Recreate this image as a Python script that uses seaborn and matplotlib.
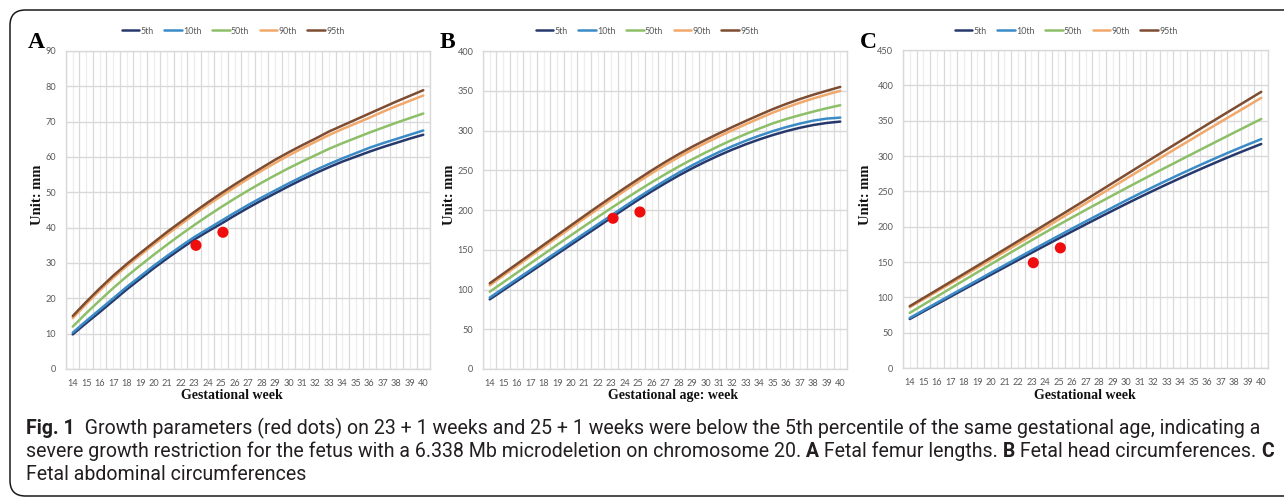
"""Fetal growth percentile charts (femur length, head and abdominal circumference)."""

import matplotlib

matplotlib.use("Agg")
import matplotlib.pyplot as plt
import numpy as np
import pandas as pd
import seaborn as sns
from matplotlib import font_manager
from matplotlib.lines import Line2D
from matplotlib.patches import FancyBboxPatch

FIG_W, FIG_H = 1284, 498

WEEKS = list(range(14, 41))
PERCENTILES = ["5th", "10th", "50th", "90th", "95th"]
DOT_WEEKS = [23.14, 25.14]

# A - femur length (mm)
FL_P5 = [9.8, 13.0, 16.1, 19.3, 22.5, 25.5, 28.5, 31.3, 34.0, 36.6, 38.9, 41.1, 43.4, 45.6,
         47.7, 49.7, 51.7, 53.6, 55.4, 57.1, 58.7, 60.1, 61.5, 62.8, 64.0, 65.2, 66.3]
FL_P10 = [10.3, 13.6, 16.8, 20.0, 23.2, 26.2, 29.2, 32.0, 34.7, 37.3, 39.6, 41.9, 44.2, 46.4,
          48.5, 50.5, 52.5, 54.4, 56.3, 58.0, 59.6, 61.1, 62.6, 63.9, 65.1, 66.3, 67.5]
FL_P50 = [12.0, 15.8, 19.4, 22.9, 26.2, 29.3, 32.3, 35.2, 38.0, 40.7, 43.3, 45.8, 48.2, 50.5,
          52.7, 54.8, 56.8, 58.7, 60.5, 62.3, 63.9, 65.4, 66.9, 68.3, 69.7, 71.0, 72.3]
FL_P90 = [14.4, 18.4, 22.2, 25.8, 29.1, 32.2, 35.2, 38.1, 40.9, 43.7, 46.4, 48.9, 51.4, 53.8,
          56.1, 58.3, 60.4, 62.4, 64.3, 66.2, 67.9, 69.5, 71.1, 72.8, 74.4, 75.9, 77.4]
FL_P95 = [15.0, 19.0, 22.8, 26.4, 29.7, 32.8, 35.8, 38.8, 41.6, 44.4, 47.1, 49.7, 52.2, 54.6,
          56.9, 59.2, 61.3, 63.3, 65.2, 67.2, 68.9, 70.6, 72.3, 74.0, 75.7, 77.3, 78.9]
FL_DOTS = [35.0, 38.7]

# B - head circumference (mm)
HC_P5 = [87.6, 99.0, 110.4, 121.8, 133.2, 144.6, 156.0, 167.4, 178.7, 190.2, 201.5, 212.6, 223.3,
         233.5, 243.2, 252.3, 260.8, 268.7, 276.0, 282.7, 288.8, 294.3, 299.2, 303.4, 306.9,
         309.5, 311.2]
HC_P10 = [89.8, 101.3, 112.8, 124.3, 135.8, 147.3, 158.8, 170.3, 181.7, 193.0, 204.4, 215.6,
          226.4, 236.8, 246.7, 256.0, 264.7, 272.8, 280.3, 287.2, 293.5, 299.2, 304.3, 308.7,
          312.4, 315.0, 316.2]
HC_P50 = [97.2, 109.0, 120.8, 132.6, 144.4, 156.2, 167.9, 179.5, 191.0, 202.3, 213.4, 224.2,
          234.7, 244.8, 254.5, 263.6, 272.2, 280.5, 288.3, 295.6, 302.5, 309.0, 314.5, 319.3,
          323.8, 328.0, 331.8]
HC_P90 = [105.3, 117.4, 129.4, 141.4, 153.4, 165.4, 177.4, 189.3, 201.1, 212.7, 224.1, 235.2,
          246.1, 256.5, 266.4, 275.6, 284.2, 292.4, 300.3, 307.9, 315.3, 322.5, 329.0, 334.9,
          340.3, 345.2, 349.9]
HC_P95 = [107.8, 119.9, 132.0, 144.1, 156.2, 168.3, 180.4, 192.4, 204.3, 216.0, 227.5, 238.7,
          249.7, 260.2, 270.1, 279.4, 288.1, 296.4, 304.4, 312.1, 319.6, 326.9, 333.5, 339.5,
          345.0, 350.0, 354.8]
HC_DOTS = [189.6, 197.5]

# C - abdominal circumference (mm)
AC_P5 = [69.3, 79.8, 90.3, 100.8, 111.2, 121.6, 132.0, 142.3, 152.6, 162.9, 173.1, 183.2, 193.2,
         203.1, 212.9, 222.6, 232.2, 241.6, 250.8, 259.8, 268.6, 277.2, 285.6, 293.8, 301.8,
         309.5, 317.0]
AC_P10 = [70.8, 81.5, 92.2, 102.9, 113.5, 124.1, 134.8, 145.3, 155.8, 166.3, 176.7, 187.0,
          197.2, 207.3, 217.3, 227.2, 237.1, 246.7, 256.1, 265.3, 274.3, 283.1, 291.7, 300.1,
          308.3, 316.2, 323.9]
AC_P50 = [78.0, 89.5, 101.0, 112.5, 124.0, 135.4, 146.8, 158.1, 169.4, 180.6, 191.6, 202.4,
          213.0, 223.5, 233.9, 244.2, 254.4, 264.5, 274.5, 284.4, 294.2, 304.0, 313.8, 323.5,
          333.2, 342.8, 352.4]
AC_P90 = [86.0, 97.1, 108.3, 119.4, 130.6, 141.8, 153.1, 164.4, 175.7, 187.1, 198.5, 209.9,
          221.4, 232.9, 244.5, 256.1, 267.8, 279.4, 291.0, 302.6, 314.1, 325.5, 337.0, 348.3,
          359.6, 370.9, 382.3]
AC_P95 = [87.5, 98.9, 110.3, 121.7, 133.2, 144.7, 156.2, 167.8, 179.4, 191.0, 202.7, 214.4,
          226.1, 237.9, 249.8, 261.7, 273.6, 285.5, 297.4, 309.2, 321.0, 332.7, 344.4, 356.0,
          367.6, 379.2, 390.8]
AC_DOTS = [149.0, 170.0]

COLORS = {
    "5th": "#26386c",
    "10th": "#3a8bc6",
    "50th": "#8dbf68",
    "90th": "#f1a86a",
    "95th": "#7d4c31",
}

CAPTION_LINES = [
    [("Fig. 1", True),
     ("  Growth parameters (red dots) on 23 + 1 weeks and 25 + 1 weeks were below the 5th "
      "percentile of the same gestational age, indicating a", False)],
    [("severe growth restriction for the fetus with a 6.338 Mb microdeletion on chromosome 20.",
      False),
     (" A", True), (" Fetal femur lengths.", False), (" B", True),
     (" Fetal head circumferences.", False), (" C", True)],
    [("Fetal abdominal circumferences", False)],
]

TICK_GREY = "#595959"
GRID = "#d9d9d9"


def _pick_font(names):
    installed = {f.name for f in font_manager.fontManager.ttflist}
    for name in names:
        if name in installed:
            return name
    return "DejaVu Sans"


def draw_panel(fig, box, curves, dots, ymax, ystep, xlabel, letter, letter_cx, legend_cx,
               xlabel_cx, ylabel_cx):
    left, top, right, bottom = box
    width, height = right - left, bottom - top
    ax = fig.add_axes([left / FIG_W, 1 - bottom / FIG_H, width / FIG_W, height / FIG_H])
    frame = pd.DataFrame({
        "week": WEEKS * len(PERCENTILES),
        "value": [v for series in curves for v in series],
        "percentile": np.repeat(PERCENTILES, len(WEEKS)),
    })
    sns.lineplot(data=frame, x="week", y="value", hue="percentile", hue_order=PERCENTILES,
                 palette=COLORS, linewidth=1.8, legend=False, ax=ax)
    sns.scatterplot(x=DOT_WEEKS, y=dots, color="#f00d0d", s=64, edgecolor="none",
                    zorder=5, ax=ax)

    ax.set_xlim(13.5, 40.5)
    ax.set_ylim(0, ymax)
    ax.set_xticks(WEEKS)
    ax.set_xticks(np.arange(13.5, 41.0, 1.0), minor=True)
    ax.set_yticks(np.arange(0, ymax + 1, ystep))
    ax.grid(True, which="minor", axis="x", color=GRID, linewidth=0.9)
    ax.grid(True, which="major", axis="x", color="#ededed", linewidth=0.9)
    ax.grid(True, which="major", axis="y", color=GRID, linewidth=1.0)
    ax.set_axisbelow(True)
    ax.tick_params(axis="both", which="both", length=0, labelsize=6.6, colors=TICK_GREY)
    ax.tick_params(axis="x", pad=7)
    ax.tick_params(axis="y", pad=7)
    for label in ax.get_xticklabels() + ax.get_yticklabels():
        label.set_family("Lato")
    for spine in ax.spines.values():
        spine.set_color(GRID)
        spine.set_linewidth(1.0)

    ax.set_xlabel(xlabel, family="Liberation Serif", fontweight="bold", fontsize=10,
                  color="#111111")
    ax.xaxis.set_label_coords((xlabel_cx - left) / width, -(389 - bottom) / height)
    ax.set_ylabel("Unit: mm", family="Liberation Serif", fontweight="bold", fontsize=10.5,
                  color="#111111")
    ax.yaxis.set_label_coords((ylabel_cx + 6 - left) / width, (bottom - 195) / height)

    fig.text(letter_cx / FIG_W, 1 - 48 / FIG_H, letter, family="Liberation Serif",
             fontweight="bold", fontsize=17, ha="center", va="baseline", color="#000000")

    handles = [Line2D([], [], color=COLORS[p], linewidth=1.8) for p in PERCENTILES]
    legend = fig.legend(handles, PERCENTILES, ncol=5, loc="center",
                        bbox_to_anchor=(legend_cx / FIG_W, 1 - 31 / FIG_H), frameon=False,
                        fontsize=6.4, handlelength=2.0, handletextpad=0.1,
                        columnspacing=1.2, borderaxespad=0.0)
    for text in legend.get_texts():
        text.set_color(TICK_GREY)
        text.set_family("Lato")
    return ax


def draw_caption(fig, family):
    renderer = fig.canvas.get_renderer()

    def place(segments, y, size):
        x = 26.0
        texts = []
        for text, bold in segments:
            t = fig.text(x / FIG_W, 1 - y / FIG_H, text, family=family, fontsize=size,
                         fontweight="bold" if bold else "normal", color="#231f20",
                         ha="left", va="baseline")
            x += t.get_window_extent(renderer).width
            texts.append(t)
        return x, texts

    size = 13.5
    end, texts = place(CAPTION_LINES[0], 434, size)
    for t in texts:
        t.remove()
    size *= (1262 - 26) / (end - 26)
    for segments, y in zip(CAPTION_LINES, [434, 457, 480]):
        place(segments, y, size)


def main():
    sns.set_theme(style="white")
    plt.rcParams["font.family"] = ["Lato", "DejaVu Sans"]

    fig = plt.figure(figsize=(FIG_W / 100, FIG_H / 100), dpi=100)
    fig.patch.set_facecolor("white")

    frame_box = FancyBboxPatch((10 / FIG_W, 1 - 496 / FIG_H), 1300 / FIG_W, 486 / FIG_H,
                               boxstyle="round,pad=0,rounding_size=0.012",
                               transform=fig.transFigure, facecolor="none",
                               edgecolor="#1a1a1a", linewidth=1.1, mutation_aspect=FIG_W / FIG_H)
    fig.patches.append(frame_box)

    draw_panel(fig, (66, 51, 430, 369), [FL_P5, FL_P10, FL_P50, FL_P90, FL_P95], FL_DOTS,
               90, 10, "Gestational week", "A", 36, 233, 232, 38)
    draw_panel(fig, (483, 51, 847, 369), [HC_P5, HC_P10, HC_P50, HC_P90, HC_P95], HC_DOTS,
               400, 50, "Gestational age: week", "B", 447, 647, 673, 450)
    draw_panel(fig, (903, 50, 1268, 368), [AC_P5, AC_P10, AC_P50, AC_P90, AC_P95], AC_DOTS,
               450, 50, "Gestational week", "C", 868, 1066, 1085, 866)

    draw_caption(fig, _pick_font(["Liberation Sans Narrow", "Roboto", "Open Sans"]))

    fig.savefig("out.png", dpi=100, facecolor="white")
    plt.close(fig)


if __name__ == "__main__":
    main()
